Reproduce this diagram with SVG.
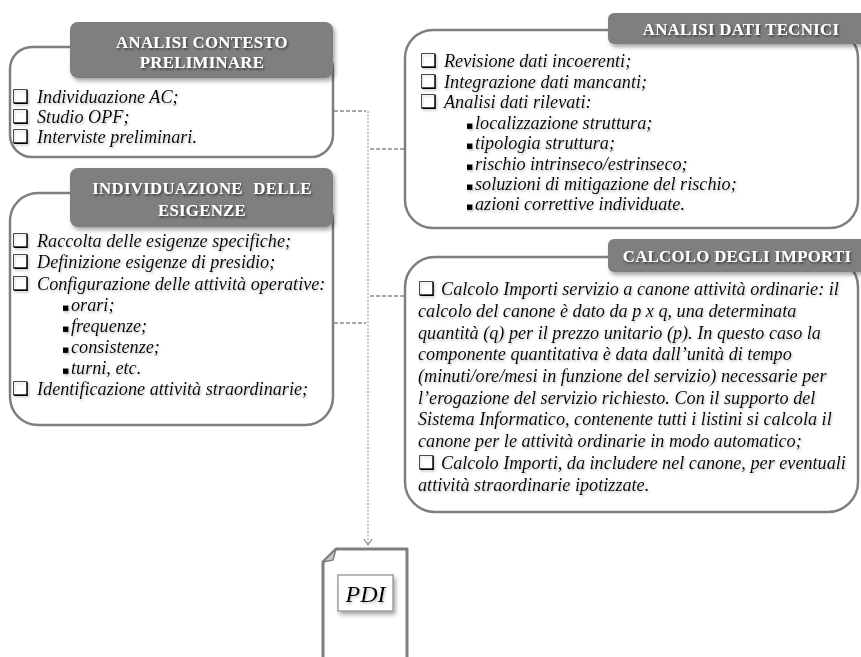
<svg xmlns="http://www.w3.org/2000/svg" width="861" height="657" viewBox="0 0 861 657">
<defs>
<filter id="hs" x="-10%" y="-20%" width="130%" height="150%">
<feDropShadow dx="2" dy="3" stdDeviation="2" flood-color="#000" flood-opacity="0.35"/>
</filter>
<filter id="ts" x="-5%" y="-30%" width="110%" height="160%">
<feDropShadow dx="1.2" dy="1.5" stdDeviation="1" flood-color="#000" flood-opacity="0.6"/>
</filter>
<filter id="its" x="-5%" y="-30%" width="110%" height="160%">
<feDropShadow dx="1" dy="1.5" stdDeviation="1" flood-color="#888" flood-opacity="0.55"/>
</filter>
<marker id="arr" markerWidth="10" markerHeight="10" refX="8" refY="5" orient="auto" markerUnits="userSpaceOnUse" viewBox="0 0 10 10">
<path d="M2,1 L8,5 L2,9" fill="none" stroke="#8a8a8a" stroke-width="1.2"/>
</marker>
</defs>
<style>
.box{fill:#fff;stroke:#7f7f7f;stroke-width:2.5}
.hdr{fill:#7f7f7f;filter:url(#hs)}
.ht{font-family:"Liberation Serif",serif;font-weight:bold;font-size:16.8px;fill:#fff;text-anchor:middle;letter-spacing:0.3px;filter:url(#ts)}
.it{font-family:"Liberation Serif",serif;font-style:italic;font-size:18.2px;fill:#000;filter:url(#its)}
.cb{font-family:"DejaVu Sans",sans-serif;font-style:normal;font-size:19px}
.sb{font-family:"DejaVu Sans",sans-serif;font-style:normal;font-size:11px}
.dash{fill:none;stroke:#8a8a8a;stroke-width:1.5;stroke-dasharray:4 2}
.dot{fill:none;stroke:#a0a0a0;stroke-width:1.2;stroke-dasharray:2 1.5}
</style>
<rect width="861" height="657" fill="#fff"/>

<g id="connectors">
<path class="dash" d="M334,111 H366"/>
<path class="dash" d="M334,323 H366"/>
<path class="dash" d="M370,149 H404"/>
<path class="dash" d="M370,296 H404"/>
<path class="dot" d="M368,111 V545" marker-end="url(#arr)"/>
</g>

<g id="analisi-contesto">
<rect class="box" x="10" y="47" width="323" height="110" rx="22"/>
<rect class="hdr" x="70" y="22" width="263" height="56" rx="8"/>
<text class="ht" x="202" y="48">ANALISI CONTESTO</text>
<text class="ht" x="202" y="68">PRELIMINARE</text>
<text class="it" x="12" y="103"><tspan class="cb">❑</tspan><tspan x="37">Individuazione AC;</tspan></text>
<text class="it" x="12" y="123"><tspan class="cb">❑</tspan><tspan x="37">Studio OPF;</tspan></text>
<text class="it" x="12" y="143"><tspan class="cb">❑</tspan><tspan x="37">Interviste preliminari.</tspan></text>
</g>

<g id="individuazione-esigenze">
<rect class="box" x="10" y="193" width="323" height="232" rx="28"/>
<rect class="hdr" x="70" y="168" width="263" height="59" rx="8"/>
<text class="ht" x="202" y="194" word-spacing="6">INDIVIDUAZIONE DELLE</text>
<text class="ht" x="202" y="216">ESIGENZE</text>
<text class="it" x="12" y="247"><tspan class="cb">❑</tspan><tspan x="37">Raccolta delle esigenze specifiche;</tspan></text>
<text class="it" x="12" y="268"><tspan class="cb">❑</tspan><tspan x="37">Definizione esigenze di presidio;</tspan></text>
<text class="it" x="12" y="290"><tspan class="cb">❑</tspan><tspan x="37">Configurazione delle attività operative:</tspan></text>
<text class="it" x="62" y="311"><tspan class="sb">▪</tspan><tspan x="71">orari;</tspan></text>
<text class="it" x="62" y="332"><tspan class="sb">▪</tspan><tspan x="71">frequenze;</tspan></text>
<text class="it" x="62" y="353"><tspan class="sb">▪</tspan><tspan x="71">consistenze;</tspan></text>
<text class="it" x="62" y="374"><tspan class="sb">▪</tspan><tspan x="71">turni, etc.</tspan></text>
<text class="it" x="12" y="395"><tspan class="cb">❑</tspan><tspan x="37">Identificazione attività straordinarie;</tspan></text>
</g>

<g id="analisi-dati-tecnici">
<rect class="box" x="405" y="30" width="453" height="198" rx="28"/>
<rect class="hdr" x="608" y="13" width="262" height="31" rx="6"/>
<text class="ht" x="741" y="35">ANALISI DATI TECNICI</text>
<text class="it" x="420" y="67"><tspan class="cb">❑</tspan><tspan x="444">Revisione dati incoerenti;</tspan></text>
<text class="it" x="420" y="88"><tspan class="cb">❑</tspan><tspan x="444">Integrazione dati mancanti;</tspan></text>
<text class="it" x="420" y="108"><tspan class="cb">❑</tspan><tspan x="444">Analisi dati rilevati:</tspan></text>
<text class="it" x="466" y="129"><tspan class="sb">▪</tspan><tspan x="475">localizzazione struttura;</tspan></text>
<text class="it" x="466" y="149"><tspan class="sb">▪</tspan><tspan x="475">tipologia struttura;</tspan></text>
<text class="it" x="466" y="170"><tspan class="sb">▪</tspan><tspan x="475">rischio intrinseco/estrinseco;</tspan></text>
<text class="it" x="466" y="190"><tspan class="sb">▪</tspan><tspan x="475">soluzioni di mitigazione del rischio;</tspan></text>
<text class="it" x="466" y="210"><tspan class="sb">▪</tspan><tspan x="475">azioni correttive individuate.</tspan></text>
</g>

<g id="calcolo-importi">
<rect class="box" x="405" y="257" width="453" height="255" rx="30"/>
<rect class="hdr" x="608" y="239" width="262" height="33" rx="6"/>
<text class="ht" x="737" y="262">CALCOLO DEGLI IMPORTI</text>
<text class="it" x="418" y="295"><tspan class="cb">❑</tspan><tspan x="441">Calcolo Importi servizio a canone attività ordinarie: il</tspan></text>
<text class="it" x="418" y="317">calcolo del canone è dato da p x q, una determinata</text>
<text class="it" x="418" y="339">quantità (q) per il prezzo unitario (p). In questo caso la</text>
<text class="it" x="418" y="360">componente quantitativa è data dall’unità di tempo</text>
<text class="it" x="418" y="382">(minuti/ore/mesi in funzione del servizio) necessarie per</text>
<text class="it" x="418" y="404">l’erogazione del servizio richiesto. Con il supporto del</text>
<text class="it" x="418" y="425">Sistema Informatico, contenente tutti i listini si calcola il</text>
<text class="it" x="418" y="447">canone per le attività ordinarie in modo automatico;</text>
<text class="it" x="418" y="469"><tspan class="cb">❑</tspan><tspan x="441">Calcolo Importi, da includere nel canone, per eventuali</tspan></text>
<text class="it" x="418" y="491">attività straordinarie ipotizzate.</text>
</g>

<g id="pdi">
<path d="M323,562 L336,549 L407,549 L407,665 L323,665 Z" fill="#fff" stroke="#7f7f7f" stroke-width="3" stroke-linejoin="round"/>
<path d="M323,562 L336,549 L333,560 Z" fill="#c8c8c8" stroke="#7f7f7f" stroke-width="1.5" stroke-linejoin="round"/>
<rect x="338" y="575" width="55" height="36" fill="#fff" stroke="#8a8a8a" stroke-width="1.2" filter="url(#hs)"/>
<text x="365.5" y="602" text-anchor="middle" font-family="Liberation Serif, serif" font-style="italic" font-size="24" fill="#000" filter="url(#its)">PDI</text>
</g>
</svg>
